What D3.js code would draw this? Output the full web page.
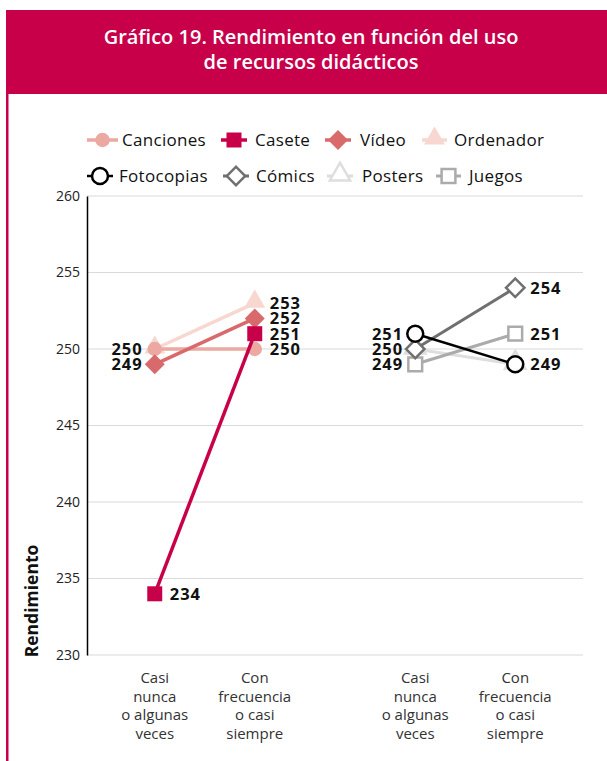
<!DOCTYPE html>
<html>
<head>
<meta charset="utf-8">
<script src="https://cdn.jsdelivr.net/npm/d3@7"></script>
<style>
  html, body { margin: 0; padding: 0; background: #fff; }
  svg { display: block; font-family: "Open Sans", Lato, sans-serif; }
</style>
</head>
<body>
<svg id="chart" width="607" height="761"></svg>
<script>
// Rendimiento según el uso de recursos didácticos
const groups = ["auditivos", "visuales"];
const frequencies = ["Casi nunca o algunas veces", "Con frecuencia o casi siempre"];
const freqLines = [["Casi", "nunca", "o algunas", "veces"], ["Con", "frecuencia", "o casi", "siempre"]];

const seriesNames = ["Canciones", "Casete", "Vídeo", "Ordenador", "Fotocopias", "Cómics", "Posters", "Juegos"];
const seriesGroup = ["auditivos", "auditivos", "auditivos", "auditivos", "visuales", "visuales", "visuales", "visuales"];
const canciones  = [250, 250];
const casete     = [234, 251];
const video      = [249, 252];
const ordenador  = [250, 253];
const fotocopias = [251, 249];
const comics     = [250, 254];
const posters    = [250, 249];
const juegos     = [249, 251];
const seriesValues = [canciones, casete, video, ordenador, fotocopias, comics, posters, juegos];

const yTicks = [230, 235, 240, 245, 250, 255, 260];

// Which value labels are written, and on which side of the marker
const labelSpecs = [
  { s: 0, i: 0, side: "left" }, { s: 2, i: 0, side: "left" }, { s: 1, i: 0, side: "right" },
  { s: 3, i: 1, side: "right" }, { s: 2, i: 1, side: "right" }, { s: 1, i: 1, side: "right" }, { s: 0, i: 1, side: "right" },
  { s: 4, i: 0, side: "left" }, { s: 5, i: 0, side: "left" }, { s: 7, i: 0, side: "left" },
  { s: 5, i: 1, side: "right" }, { s: 7, i: 1, side: "right" }, { s: 4, i: 1, side: "right" }
];

const styles = {
  "Canciones":  { color: "#EBA9A1", shape: "circle",   fill: true,  width: 3.5 },
  "Casete":     { color: "#C8004A", shape: "square",   fill: true,  width: 3.5 },
  "Vídeo":      { color: "#D96A6C", shape: "diamond",  fill: true,  width: 3.5 },
  "Ordenador":  { color: "#F7D7CF", shape: "triangle", fill: true,  width: 3.5 },
  "Fotocopias": { color: "#000000", shape: "circle",   fill: false, width: 2.5 },
  "Cómics":     { color: "#707070", shape: "diamond",  fill: false, width: 3 },
  "Posters":    { color: "#DEDEDE", shape: "triangle", fill: false, width: 3 },
  "Juegos":     { color: "#ABABAB", shape: "square",   fill: false, width: 3 }
};

const crimson = "#C8004A";
const svg = d3.select("#chart");

// Frame: header band and left rule
svg.append("rect").attr("x", 6).attr("y", 10).attr("width", 601).attr("height", 84).attr("fill", crimson);
svg.append("rect").attr("x", 6).attr("y", 94).attr("width", 2.5).attr("height", 667).attr("fill", crimson);

const title = svg.append("text")
  .attr("x", 311).attr("text-anchor", "middle")
  .attr("fill", "#fff").attr("font-size", 20).attr("font-weight", 600);
title.append("tspan").attr("x", 311).attr("y", 44).text("Gráfico 19. Rendimiento en función del uso");
title.append("tspan").attr("x", 311).attr("y", 69).text("de recursos didácticos");

// Plot area
const plot = { left: 87, right: 583, top: 196, bottom: 655 };

const y = d3.scaleLinear().domain([230, 260]).range([plot.bottom, plot.top]);
const xGroup = d3.scaleBand().domain(groups).range([plot.left, plot.right])
  .paddingInner(0.2).paddingOuter(0.052);
const xFreq = d3.scalePoint().domain(frequencies).range([0, xGroup.bandwidth()]).padding(0.542);
const xPos = (g, i) => xGroup(g) + xFreq(frequencies[i]);

// Gridlines
svg.append("g").selectAll("line").data(yTicks).join("line")
  .attr("x1", plot.left).attr("x2", plot.right)
  .attr("y1", d => y(d)).attr("y2", d => y(d))
  .attr("stroke", "#DADADA").attr("stroke-width", 1.2);

// Y axis
const yAxis = svg.append("g").attr("transform", `translate(${plot.left},0)`)
  .call(d3.axisLeft(y).tickValues(yTicks).tickSize(0).tickPadding(7));
yAxis.select(".domain").attr("stroke", "#000").attr("stroke-width", 1.5);
yAxis.selectAll("text").attr("font-size", 14).attr("fill", "#222")
  .attr("font-family", "'Open Sans', sans-serif");

svg.append("text")
  .attr("transform", `translate(38,${601}) rotate(-90)`)
  .attr("text-anchor", "middle").attr("font-size", 17.5).attr("font-weight", 700)
  .attr("fill", "#111").text("Rendimiento");

// X category labels
groups.forEach(g => {
  freqLines.forEach((lines, i) => {
    const t = svg.append("text").attr("text-anchor", "middle")
      .attr("font-size", 15).attr("fill", "#333");
    lines.forEach((ln, k) => {
      t.append("tspan").attr("x", xPos(g, i)).attr("y", 683 + k * 18.5).text(ln);
    });
  });
});

// Marker symbols (diamonds are squares turned 45°)
const symbolTypes = {
  circle: d3.symbolCircle, square: d3.symbolSquare,
  diamond: d3.symbolSquare, triangle: d3.symbolTriangle
};
const symbolSizes = { circle: 165, square: 225, diamond: 200, triangle: 190 };
const hollowSizes = { circle: 200, square: 190, diamond: 170, triangle: 180 };
function drawSymbol(sel, st, cx, cy) {
  const size = st.fill ? symbolSizes[st.shape] : hollowSizes[st.shape];
  let tf = `translate(${cx},${cy})`;
  if (st.shape === "triangle") tf += " translate(0,-1.5)";
  if (st.shape === "diamond") tf += " rotate(45)";
  sel.append("path")
    .attr("d", d3.symbol().type(symbolTypes[st.shape]).size(size)())
    .attr("transform", tf)
    .attr("fill", st.fill ? st.color : "#fff")
    .attr("stroke", st.color)
    .attr("stroke-width", st.fill ? 0 : 2.5);
}

// Series lines and markers, back to front
const drawOrder = [3, 0, 2, 1, 6, 7, 5, 4];
const line = d3.line().x(d => d.x).y(d => d.y);
const seriesLayer = svg.append("g");
drawOrder.forEach(s => {
  const name = seriesNames[s];
  const st = styles[name];
  const pts = seriesValues[s].map((v, i) => ({ x: xPos(seriesGroup[s], i), y: y(v) }));
  const g = seriesLayer.append("g");
  g.append("path").attr("d", line(pts)).attr("fill", "none")
    .attr("stroke", st.color).attr("stroke-width", st.width);
  pts.forEach(p => drawSymbol(g, st, p.x, p.y));
});

// Value labels
svg.append("g").selectAll("text").data(labelSpecs).join("text")
  .attr("x", d => xPos(seriesGroup[d.s], d.i) + (d.side === "left" ? -12 : 15))
  .attr("y", d => y(seriesValues[d.s][d.i]))
  .attr("dy", "0.36em")
  .attr("text-anchor", d => d.side === "left" ? "end" : "start")
  .attr("font-size", 16.5).attr("font-weight", 700).attr("fill", "#111")
  .attr("letter-spacing", 1)
  .text(d => seriesValues[d.s][d.i]);

// Legend
const legendItems = [
  { s: 0, x0: 87, x1: 118, tx: 122, y: 140 },
  { s: 1, x0: 221, x1: 247, tx: 255, y: 140 },
  { s: 2, x0: 325, x1: 351, tx: 360, y: 140 },
  { s: 3, x0: 422, x1: 447, tx: 454, y: 140 },
  { s: 4, x0: 87, x1: 113, tx: 119, y: 176 },
  { s: 5, x0: 223, x1: 249, tx: 256, y: 176 },
  { s: 6, x0: 327, x1: 353, tx: 362, y: 176 },
  { s: 7, x0: 436, x1: 461, tx: 469, y: 176 }
];
const legend = svg.append("g");
legendItems.forEach(it => {
  const name = seriesNames[it.s];
  const st = styles[name];
  legend.append("line").attr("x1", it.x0).attr("x2", it.x1).attr("y1", it.y).attr("y2", it.y)
    .attr("stroke", st.color).attr("stroke-width", st.width);
  drawSymbol(legend, st, (it.x0 + it.x1) / 2, it.y);
  legend.append("text").attr("x", it.tx).attr("y", it.y).attr("dy", "0.35em")
    .attr("font-size", 17).attr("fill", "#111").attr("letter-spacing", 0.3).text(name);
});
</script>
</body>
</html>
